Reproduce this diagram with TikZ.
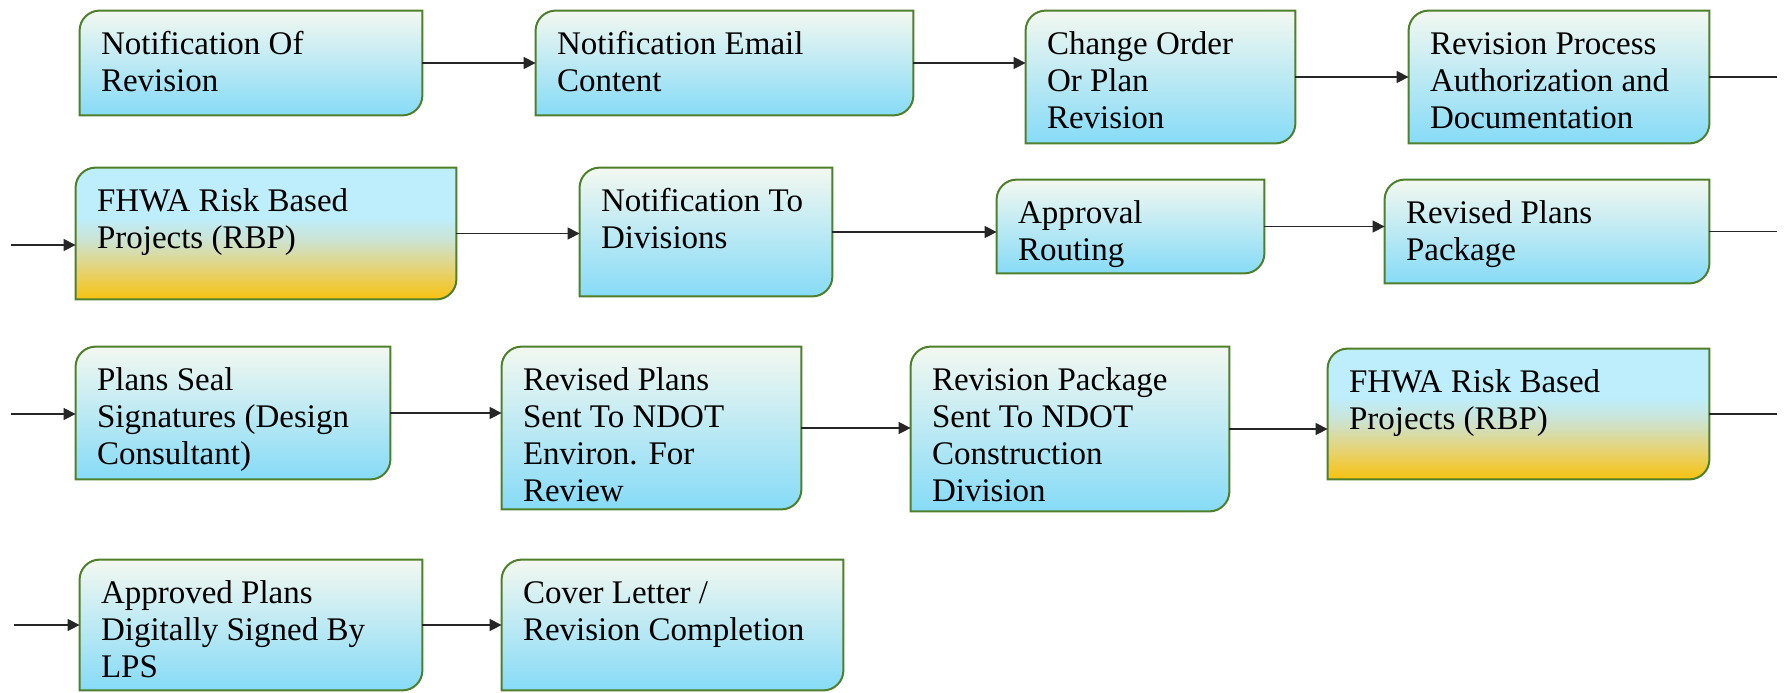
\documentclass[tikz,border=0pt]{standalone}
\usepackage{fontspec}
\setmainfont{Liberation Serif}
\usetikzlibrary{arrows.meta,fit}
\definecolor{bord}{RGB}{78,128,44}
\definecolor{btop}{HTML}{F3F8F0}
\definecolor{bbot}{HTML}{86DBF7}
\definecolor{fgold}{HTML}{F8C20F}
\definecolor{fmidA}{HTML}{E4D47A}
\definecolor{fmidB}{HTML}{CBE4D6}
\definecolor{fblue}{HTML}{BEEDFB}
\pgfdeclareverticalshading{fhwashade}{100bp}{color(0bp)=(fgold); color(25bp)=(fgold); color(37bp)=(fmidA); color(48bp)=(fmidB); color(56bp)=(fblue); color(75bp)=(fblue); color(100bp)=(fblue)}
\tikzset{
  frame/.style={inner sep=0pt},
  bluebox/.style={draw=bord, line width=1pt, top color=btop, bottom color=bbot},
  goldbox/.style={draw=bord, line width=1pt, shading=fhwashade},
  txt/.style={anchor=base west, inner sep=0pt, font=\fontsize{16.5}{18.4}\selectfont},
  flow/.style={draw=black!85, line width=0.7pt, -{Triangle[length=6pt,width=6pt]}},
  flowend/.style={draw=black!85, line width=0.7pt}
}
\newcommand\procbox[7]{%
  \node[frame, fit={(#2,#3) (#4,#5)}] (#1) {};
  \path[#6] (#1.south west) -- ([yshift=-10pt]#1.north west) .. controls ([yshift=-4.5pt]#1.north west) and ([xshift=4.5pt]#1.north west) .. ([xshift=10pt]#1.north west) -- (#1.north east) -- ([yshift=10pt]#1.south east) .. controls ([yshift=4.5pt]#1.south east) and ([xshift=-4.5pt]#1.south east) .. ([xshift=-10pt]#1.south east) -- cycle;
  \node[txt] (#1-t) at ([xshift=10.5pt,yshift=-22pt]#1.north west) {\begin{tabular}[t]{@{}l@{}}#7\end{tabular}};
}
\begin{document}
\begin{tikzpicture}[x=0.5pt,y=-0.5pt]
\useasboundingbox (0,0) rectangle (1784,692);
% row 1
\procbox{B1}{80}{11}{422}{115}{bluebox}{Notification Of\\Revision}
\procbox{B2}{536}{11}{913}{115}{bluebox}{Notification Email\\Content}
\procbox{B3}{1026}{11}{1295}{143}{bluebox}{Change Order\\Or Plan\\Revision}
\procbox{B4}{1409}{11}{1709}{143}{bluebox}{Revision Process\\Authorization and\\Documentation}
% row 2
\procbox{B5}{76}{168}{456}{299}{goldbox}{FHWA Risk Based\\Projects (RBP)}
\procbox{B6}{580}{168}{832}{296}{bluebox}{Notification To\\Divisions}
\procbox{B7}{997}{180}{1264}{273}{bluebox}{Approval\\Routing}
\procbox{B8}{1385}{180}{1709}{283}{bluebox}{Revised Plans\\Package}
% row 3
\procbox{B9}{76}{347}{390}{479}{bluebox}{Plans Seal\\Signatures (Design\\Consultant)}
\procbox{B10}{502}{347}{801}{509}{bluebox}{Revised Plans\\Sent To NDOT\\Environ. For\\Review}
\procbox{B11}{911}{347}{1229}{511}{bluebox}{Revision Package\\Sent To NDOT\\Construction\\Division}
\procbox{B12}{1328}{349}{1709}{479}{goldbox}{FHWA Risk Based\\Projects (RBP)}
% row 4
\procbox{B13}{80}{560}{422}{690}{bluebox}{Approved Plans\\Digitally Signed By\\LPS}
\procbox{B14}{502}{560}{843}{690}{bluebox}{Cover Letter /\\Revision Completion}
% free ends
\coordinate (e1) at (1777,80);
\coordinate (s2) at (11,245);
\coordinate (e2) at (1777,233);
\coordinate (s3) at (11,414);
\coordinate (e3) at (1777,414);
\coordinate (s4) at (14,625);
% connectors
\draw[flow] (B1.east) -- (B1.east -| B2.west);
\draw[flow] (B2.east) -- (B2.east -| B3.west);
\draw[flow] (B3.east) -- (B3.east -| B4.west);
\draw[flowend] (B4.east) -- (B4.east -| e1);
\draw[flow] (s2) -- (s2 -| B5.west);
\draw[flow] (B5.east) -- (B5.east -| B6.west);
\draw[flow] (B6.east) -- (B6.east -| B7.west);
\draw[flow] (B7.east) -- (B7.east -| B8.west);
\draw[flowend] (B8.east) -- (B8.east -| e2);
\draw[flow] (s3) -- (s3 -| B9.west);
\draw[flow] (B9.east) -- (B9.east -| B10.west);
\draw[flow] (B10.east) -- (B10.east -| B11.west);
\draw[flow] (B11.east) -- (B11.east -| B12.west);
\draw[flowend] (B12.east) -- (B12.east -| e3);
\draw[flow] (s4) -- (s4 -| B13.west);
\draw[flow] (B13.east) -- (B13.east -| B14.west);
\end{tikzpicture}
\end{document}
